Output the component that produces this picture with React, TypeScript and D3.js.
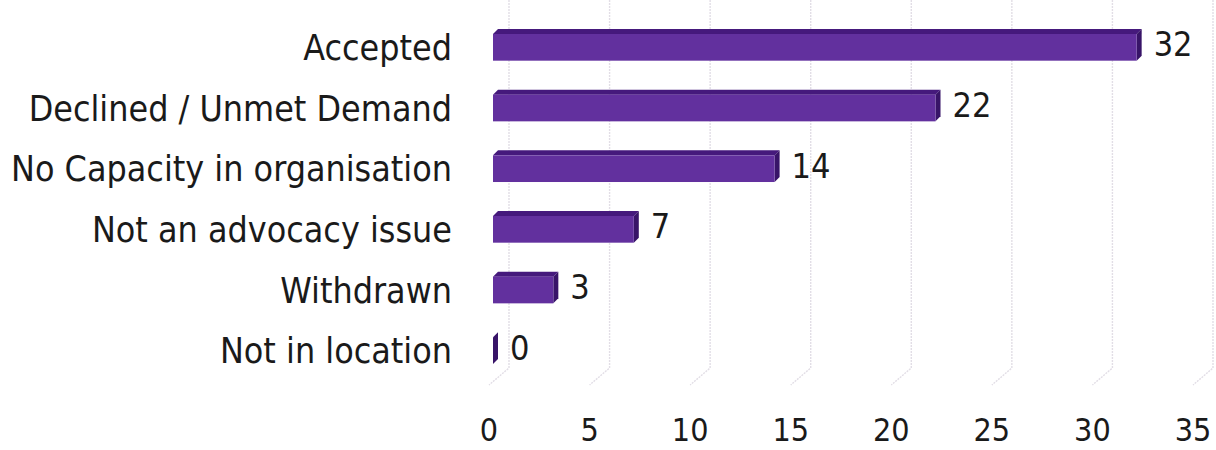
import React from "react";
import * as d3 from "d3";

const categories = [
  "Accepted",
  "Declined / Unmet Demand",
  "No Capacity in organisation",
  "Not an advocacy issue",
  "Withdrawn",
  "Not in location",
];
const values = [32, 22, 14, 7, 3, 0];
const ticks = [0, 5, 10, 15, 20, 25, 30, 35];

const W = 1216;
const H = 450;
const FONT = "'DejaVu Sans Condensed', 'DejaVu Sans', sans-serif";
const FS = 35.5;

export default function App() {
  const x = d3.scaleLinear().domain([0, 35]).range([493, 1197]);
  const y = d3
    .scaleBand<string>()
    .domain(categories)
    .range([17, 381])
    .paddingInner(0.56)
    .paddingOuter(0.28);
  const bh = y.bandwidth();
  const d = 5; // 3D depth offset

  return (
    <svg
      width={W}
      height={H}
      style={{ position: "absolute", left: 0, top: 0, background: "#fff" }}
    >
      {/* gridlines: back wall + floor diagonal */}
      {ticks.map((t) => (
        <path
          key={"g" + t}
          d={`M${x(t) + 16},0 L${x(t) + 16},368 L${x(t) - 4},385`}
          fill="none"
          stroke="#e2dee6"
          strokeWidth={1.4}
          strokeDasharray="2,1"
        />
      ))}
      {/* bars */}
      {categories.map((c, i) => {
        const v = values[i];
        const x0 = x(0);
        const x1 = x(v);
        const y0 = y(c)!;
        return (
          <g key={c}>
            <path
              d={`M${x0},${y0} L${x0 + d},${y0 - d} L${x1 + d},${y0 - d} L${x1},${y0} Z`}
              fill="#45197c"
            />
            <path
              d={`M${x1},${y0} L${x1 + d},${y0 - d} L${x1 + d},${y0 + bh - d} L${x1},${y0 + bh} Z`}
              fill="#381468"
            />
            <rect x={x0} y={y0} width={x1 - x0} height={bh} fill="#62309e" />
            <text
              x={x1 + 17}
              y={y0 + bh / 2 - 3}
              dominantBaseline="central"
              fontFamily={FONT}
              fontSize={34}
              fill="#1a1a1a"
            >
              {v}
            </text>
          </g>
        );
      })}
      {/* category labels */}
      {categories.map((c) => (
        <text
          key={"l" + c}
          x={452}
          y={y(c)! + bh / 2}
          textAnchor="end"
          dominantBaseline="central"
          fontFamily={FONT}
          fontSize={FS}
          fill="#1a1a1a"
        >
          {c}
        </text>
      ))}
      {/* tick labels */}
      {ticks.map((t) => (
        <text
          key={"t" + t}
          x={x(t) - 4}
          y={430}
          textAnchor="middle"
          dominantBaseline="central"
          fontFamily={FONT}
          fontSize={32}
          fill="#1a1a1a"
        >
          {t}
        </text>
      ))}
    </svg>
  );
}
